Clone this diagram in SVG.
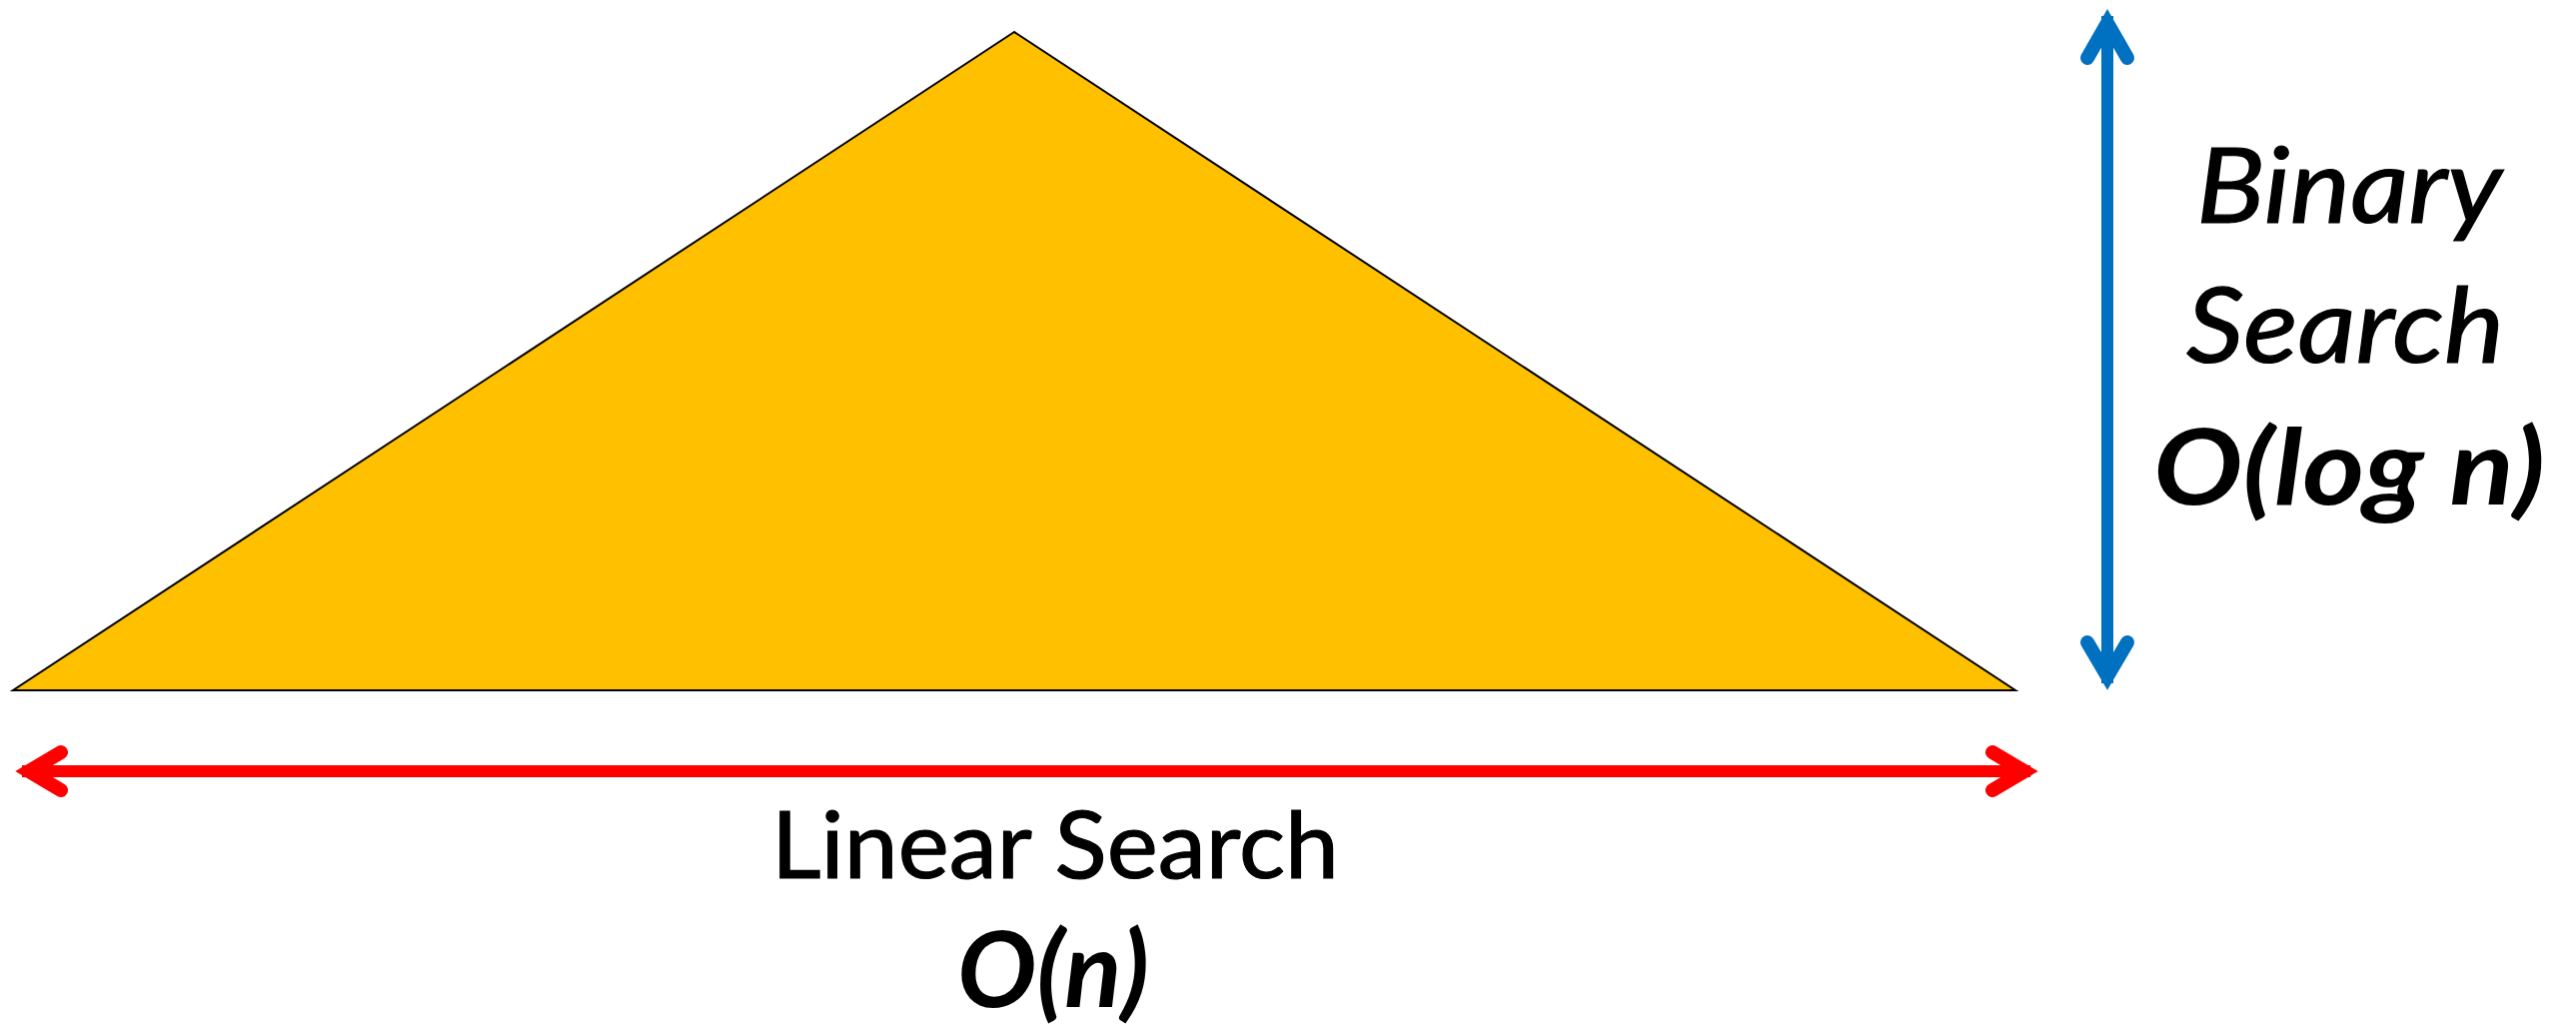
<svg xmlns="http://www.w3.org/2000/svg" width="2578" height="1027" viewBox="0 0 2578 1027">
<style>
.lbl{font-family:Lato,"Liberation Sans",sans-serif;fill:#000}
.reg{font-size:94px;stroke:#000;stroke-width:1.2}
.it{font-size:104px;font-style:italic;stroke:#000;stroke-width:1.2}
.bi{font-size:106px;font-style:italic;font-weight:bold}
.shaft{fill:none;stroke-width:12}
.head{fill:none;stroke-width:14;stroke-linecap:round;stroke-linejoin:miter;stroke-miterlimit:6}
</style>
<rect width="2578" height="1027" fill="#fff"/>
<g id="triangle">
<polygon points="1015,32 13,691 2017,691" fill="#FFC000" stroke="#000" stroke-width="2" stroke-linejoin="miter"/>
</g>
<g id="connectors">
<g id="linear-arrow" stroke="#FF0000">
<line class="shaft" x1="22" y1="772" x2="2032" y2="772"/>
<path class="head" d="M61 753 L29 772 L61 791"/>
<path class="head" d="M1994 753 L2026 772 L1994 791"/>
</g>
<g id="binary-arrow" stroke="#0070C0">
<line class="shaft" x1="2109" y1="16" x2="2109" y2="684"/>
<path class="head" d="M2089 58 L2109 23 L2129 58"/>
<path class="head" d="M2089 643 L2109 677 L2129 643"/>
</g>
</g>
<g id="linear-label">
<text class="lbl reg" x="772" y="879" textLength="568" lengthAdjust="spacingAndGlyphs">Linear Search</text>
<text class="lbl bi" x="958" y="1008" textLength="192" lengthAdjust="spacingAndGlyphs">O(n)</text>
</g>
<g id="binary-label">
<text class="lbl it" x="2198" y="223" textLength="306" lengthAdjust="spacingAndGlyphs">Binary</text>
<text class="lbl it" x="2188" y="363" textLength="318" lengthAdjust="spacingAndGlyphs">Search</text>
<text class="lbl bi" x="2155" y="505" textLength="392" lengthAdjust="spacingAndGlyphs">O(log n)</text>
</g>
</svg>
